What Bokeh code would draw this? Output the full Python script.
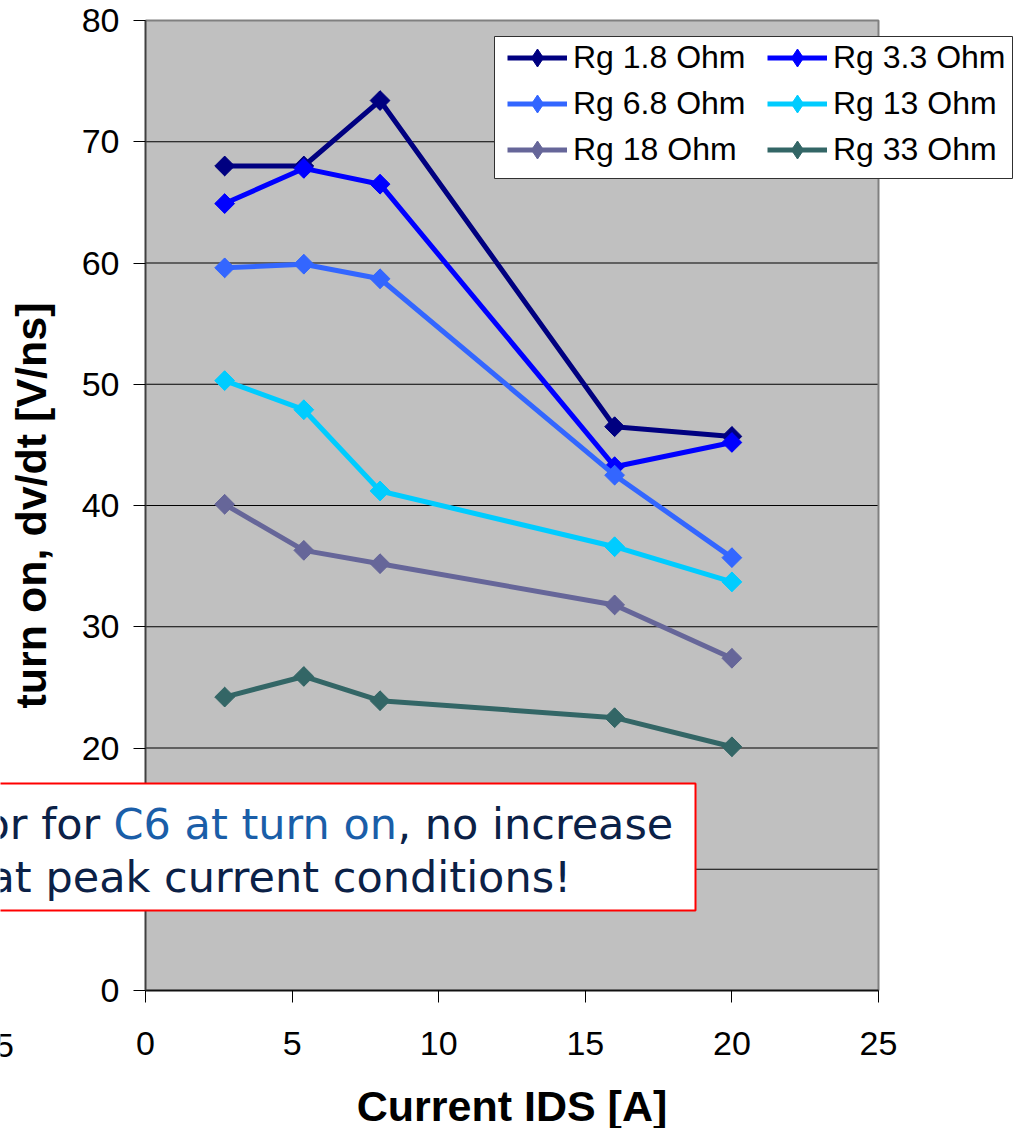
import numpy as np
from bokeh.plotting import figure
from bokeh.models import Legend, LegendItem, Label, Range1d, BoxAnnotation, FixedTicker
from bokeh.embed import file_html
from bokeh.resources import INLINE

# ---- data ----
current = [2.7, 5.4, 8.0, 16.0, 20.0]
rg_1_8 = [68.0, 68.0, 73.4, 46.5, 45.7]
rg_3_3 = [64.9, 67.8, 66.5, 43.2, 45.2]
rg_6_8 = [59.6, 59.9, 58.7, 42.5, 35.7]
rg_13 = [50.3, 47.9, 41.2, 36.6, 33.7]
rg_18 = [40.1, 36.3, 35.2, 31.8, 27.4]
rg_33 = [24.2, 25.9, 23.9, 22.5, 20.1]
series_names = ["Rg 1.8 Ohm", "Rg 3.3 Ohm", "Rg 6.8 Ohm", "Rg 13 Ohm", "Rg 18 Ohm", "Rg 33 Ohm"]
series_values = [rg_1_8, rg_3_3, rg_6_8, rg_13, rg_18, rg_33]
series_colors = ["#000080", "#0000FF", "#3366FF", "#00CCFF", "#666699", "#336666"]
x_ticks = [0, 5, 10, 15, 20, 25]
y_ticks = [0, 10, 20, 30, 40, 50, 60, 70, 80]
stray_tick_value = -5
stray_tick_label = "-5"
x_title = "Current IDS [A]"
y_title = "turn on, dv/dt [V/ns]"
note_line1 = ["or for ", "C6 at turn on", ", no increase"]
note_line2 = "at peak current conditions!"

# ---- layout helpers (page pixel -> data) ----
W, H = 1015, 1128
X0, X1, Y0, Y1 = 145.0, 878.0, 990.0, 20.0
XMIN, XMAX = x_ticks[0], x_ticks[-1]
YMIN, YMAX = y_ticks[0], y_ticks[-1]
def xd(px):
    return XMIN + (px - X0) / (X1 - X0) * (XMAX - XMIN)
def yd(py):
    return YMIN + (Y0 - py) / (Y0 - Y1) * (YMAX - YMIN)

FONT = "Liberation Sans"

p = figure(width=W, height=H, x_range=Range1d(xd(0), xd(W)), y_range=Range1d(yd(H), yd(0)),
           output_backend="svg", toolbar_location=None,
           min_border_left=0, min_border_right=0, min_border_top=0, min_border_bottom=0,
           background_fill_color="white", border_fill_color="white")
p.outline_line_color = None
p.xgrid.visible = False
p.ygrid.visible = False

# plot area
p.quad(left=[XMIN], right=[XMAX], bottom=[YMIN], top=[YMAX], fill_color="#C0C0C0", line_color=None)
# horizontal gridlines
p.segment(x0=[XMIN] * len(y_ticks), x1=[XMAX] * len(y_ticks), y0=y_ticks, y1=y_ticks,
          line_color="black", line_width=1)
# plot area border (top and right)
p.line(x=[XMIN, XMAX, XMAX], y=[YMAX, YMAX, YMIN], line_color="#808080", line_width=2)

for ax, ticks, bnds in ((p.xaxis, x_ticks, (XMIN, XMAX)), (p.yaxis, y_ticks, (YMIN, YMAX))):
    ax.ticker = FixedTicker(ticks=ticks)
    ax.fixed_location = 0
    ax.bounds = bnds
    ax.major_label_text_font = FONT
    ax.major_label_text_font_size = "34px"
    ax.major_label_text_color = "black"
    ax.axis_label_text_font = FONT
    ax.axis_label_text_font_size = "43px"
    ax.axis_label_text_font_style = "bold"
    ax.axis_label_text_color = "black"
    ax.major_tick_out = 12
    ax.major_tick_in = 0
    ax.minor_tick_out = 0
    ax.minor_tick_in = 0
    ax.major_tick_line_color = "black"
    ax.axis_line_width = 2

p.xaxis.axis_line_color = "#101010"
p.yaxis.axis_line_color = "#404040"
p.xaxis.axis_label = x_title
p.yaxis.axis_label = y_title
p.xaxis.major_label_standoff = 29
p.yaxis.major_label_standoff = 14
p.xaxis.axis_label_standoff = 24
p.yaxis.axis_label_standoff = 24

items = []
for name, vals, col in zip(series_names, series_values, series_colors):
    lr = p.line(current, vals, line_color=col, line_width=5)
    # diamond used for the legend key (hidden beneath the rotated squares)
    dr = p.scatter(current, vals, marker="diamond", size=19, fill_color=col, line_color=col)
    p.scatter(current, vals, marker="square", angle=np.pi / 4, size=14,
              fill_color=col, line_color=col)
    items.append(LegendItem(label=name, renderers=[lr, dr]))

# legend frame
p.add_layout(BoxAnnotation(left=xd(494), right=xd(1012), top=yd(36), bottom=yd(178),
                           fill_color="white", fill_alpha=1.0, line_color="#303030",
                           line_alpha=1.0, line_width=1, level="annotation"))
legend = Legend(items=items, location=(507, H - 172), ncols=2, orientation="horizontal",
                label_text_font=FONT, label_text_font_size="32px", label_text_color="black",
                glyph_width=60, glyph_height=45, label_standoff=6, label_width=193,
                spacing=1, padding=0, margin=0,
                border_line_color=None, background_fill_alpha=0.0)
p.add_layout(legend)

# stray tick label of the axis beyond the left edge
p.add_layout(Label(x=stray_tick_value, y=yd(1045), text=stray_tick_label, text_align="center",
                   text_baseline="middle", text_font=FONT, text_font_size="34px",
                   text_color="black"))

# note box
p.add_layout(BoxAnnotation(left=xd(-20), right=xd(695), top=yd(783), bottom=yd(910),
                           fill_color="white", fill_alpha=1.0, line_color="#FF0000",
                           line_alpha=1.0, line_width=2, level="annotation"))
NOTE_FONT = "DejaVu Sans"
NOTE_SIZE = "43px"
NAVY = "#0B2147"
BLUE = "#1A5EA8"
seg_x = [-17, 113, 397]
seg_col = [NAVY, BLUE, NAVY]
for txt, sx, c in zip(note_line1, seg_x, seg_col):
    p.add_layout(Label(x=xd(sx), y=yd(823), text=txt, text_align="left", text_baseline="alphabetic",
                       text_font=NOTE_FONT, text_font_size=NOTE_SIZE, text_color=c))
p.add_layout(Label(x=xd(-12), y=yd(876), text=note_line2, text_align="left", text_baseline="alphabetic",
                   text_font=NOTE_FONT, text_font_size=NOTE_SIZE, text_color=NAVY))

open("out.html", "w").write(file_html(p, INLINE))
